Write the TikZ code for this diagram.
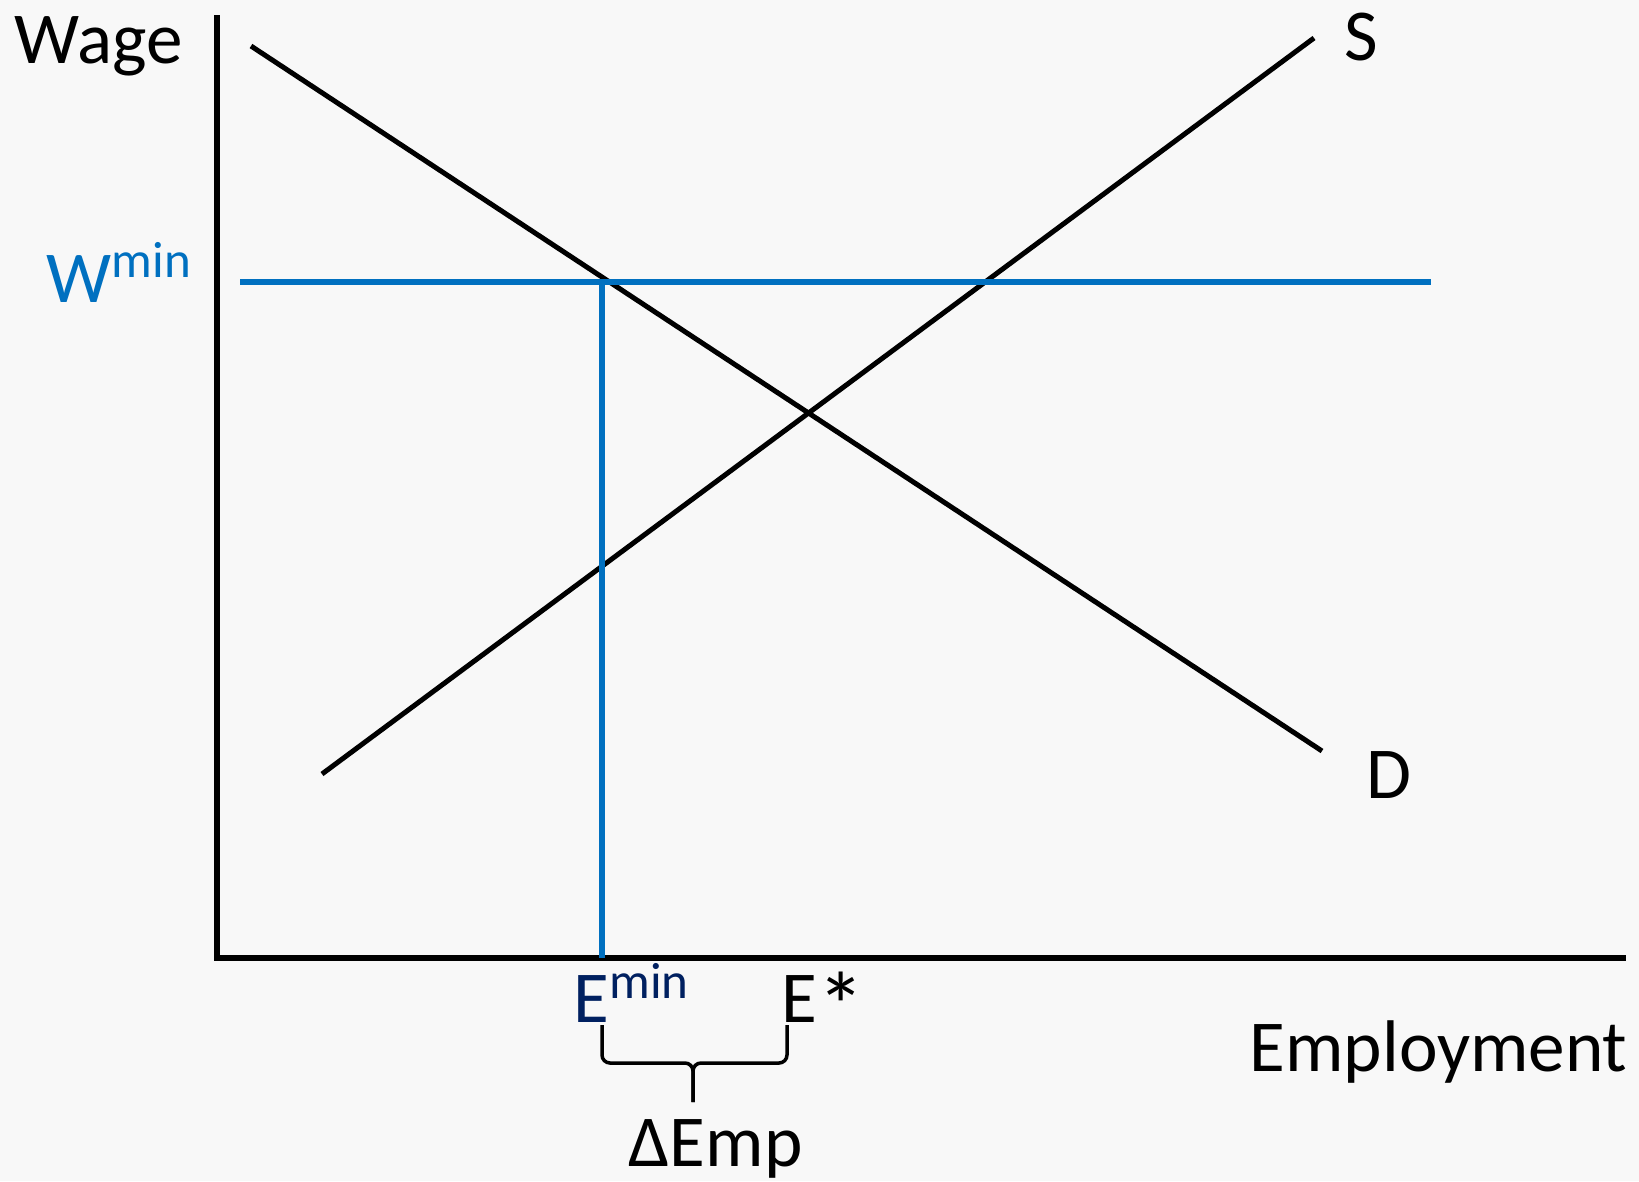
\documentclass[tikz,border=0pt]{standalone}
\usepackage{fontspec}
\setmainfont{Carlito}
\usepackage{xcolor}
\usetikzlibrary{positioning}
\definecolor{minblue}{RGB}{0,112,192}
\definecolor{empnavy}{RGB}{0,32,96}
\definecolor{bggray}{RGB}{248,248,248}
\newcommand{\minsup}[1]{\raisebox{0.24cm}{\fontsize{14.5pt}{16pt}\selectfont #1}}

\begin{document}
\begin{tikzpicture}[
  x=0.01cm, y=-0.01cm,
  axis/.style={draw=black, line width=0.06cm},
  curve/.style={draw=black, line width=0.05cm},
  minline/.style={draw=minblue, line width=0.055cm},
  brc/.style={draw=black, line width=0.035cm, rounded corners=0.08cm},
  lbl/.style={anchor=base west, inner sep=0pt, font=\fontsize{20.8pt}{25pt}\selectfont},
]
\path[use as bounding box, fill=bggray] (0,0) rectangle (1639,1181);

% axes
\coordinate (O) at (217,958);
\coordinate (ytop) at (217,15);
\coordinate (xend) at (1626,958);
\draw[axis] (ytop) -- (O) -- (xend);

% demand and supply
\coordinate (dA) at (251,46);
\coordinate (dB) at (1322,751);
\coordinate (sA) at (322,774);
\coordinate (sB) at (1314,38);
\draw[curve] (dA) -- (dB);
\draw[curve] (sA) -- (sB);

% minimum wage
\coordinate (wA) at (240,282);
\coordinate (wB) at (1431,282);
\coordinate (eTop) at (602,282);
\coordinate (eBot) at (602,958);
\draw[minline] (wA) -- (wB);
\draw[minline] (eTop) -- (eBot);

% labels
\node[lbl] (wage) at (14,63) {Wage};
\node[lbl, text=minblue] (wmin) at (46,302) {W\minsup{min}};
\node[lbl] (slbl) at (1344,60) {S};
\node[lbl] (dlbl) at (1366,798) {D};
\node[lbl] (empl) at (1249,1071) {Employment};
\node[lbl, text=empnavy] (emin) at (573,1022) {E\minsup{min}};
\node[lbl] (estar) at (781,1022) {E\raisebox{-0.17cm}{\scalebox{1.3}{*}}};
\node[lbl] (demp) at (628,1166) {ΔEmp};

% brace
\coordinate (bl) at (602,1025);
\coordinate (br) at (787,1025);
\coordinate (bmid) at (693,1063);
\coordinate (btip) at (693,1102);
\draw[brc] (bl) |- (bmid) -- (btip);
\draw[brc] (br) |- (bmid) -- (btip);
\end{tikzpicture}
\end{document}
